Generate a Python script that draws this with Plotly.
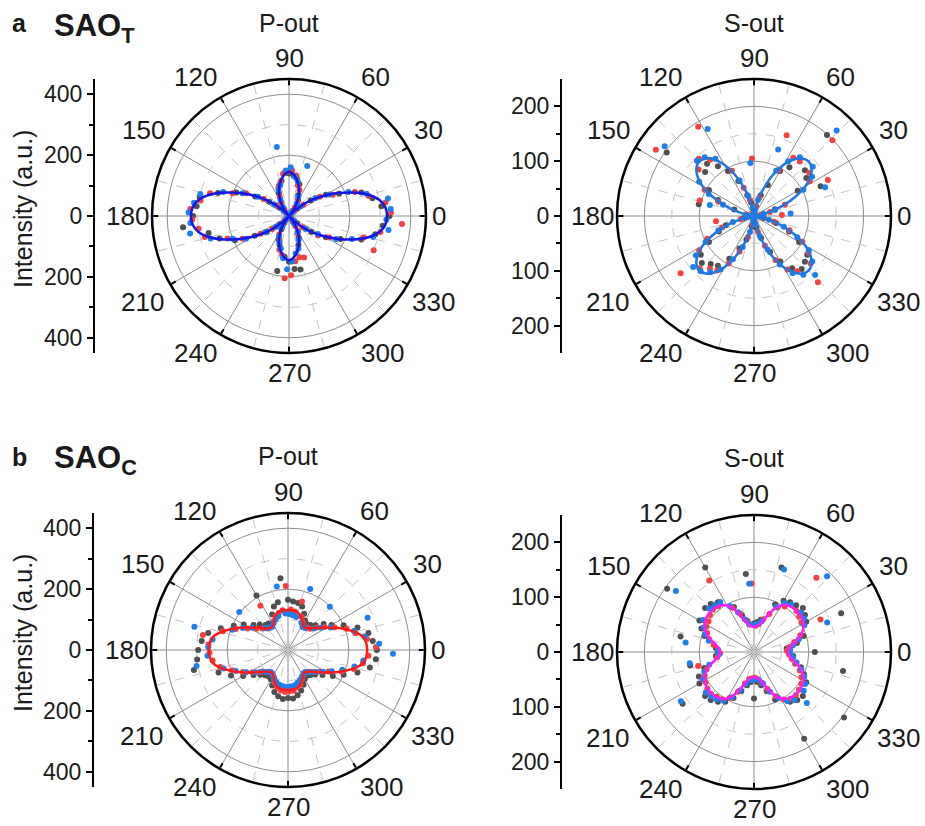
import plotly.graph_objects as go

W, H = 925, 826
FONT = "Liberation Sans, Arial, sans-serif"
TXT = "#1a1a1a"

# Polarisation angle (deg) of the three measurement runs
ANG_GRAY = list(range(0, 360, 6))
ANG_RED = list(range(2, 360, 6))
ANG_BLUE = list(range(4, 360, 6))
FIT_STEP = 5  # fit curves are listed over 0..90 deg and mirrored into the other quadrants

# ---------------- panel a, SAO_T, P-out ----------------
a_p_gray = [330, 305, 280, 250, 180, 140, 88, 35, 12, 20, 60, 75, 110, 125, 135, 140,
            142, 118, 105, 82, 50, 28, 8, 42, 80, 128, 190, 245, 300, 305,
            315, 350, 270, 240, 195, 130, 90, 40, 10, 28, 50, 85, 100, 185, 135, 150,
            175, 180, 100, 78, 58, 22, 10, 35, 90, 140, 185, 250, 290, 310]
a_p_red = [335, 320, 270, 230, 160, 120, 60, 25, 8, 35, 60, 92, 105, 135, 150,
           148, 140, 115, 100, 70, 48, 12, 20, 55, 100, 160, 200, 270, 295, 325,
           318, 300, 285, 215, 170, 110, 70, 20, 8, 38, 68, 85, 115, 130, 205,
           195, 150, 140, 145, 65, 40, 15, 22, 58, 115, 150, 300, 255, 305, 372]
a_p_blue = [335, 330, 265, 210, 150, 105, 48, 18, 12, 48, 70, 175, 118, 130, 160,
            150, 230, 105, 92, 60, 35, 8, 25, 62, 120, 170, 230, 300, 315, 330,
            325, 330, 268, 200, 160, 95, 55, 12, 18, 42, 75, 92, 110, 140, 175,
            150, 125, 112, 85, 60, 30, 8, 25, 70, 112, 172, 220, 285, 330, 320]
a_p_fit = [322, 318, 302, 270, 225, 178, 135, 92, 52, 15, 5, 28, 55, 76, 96, 113, 128, 140, 145]

# ---------------- panel a, SAO_T, S-out ----------------
a_s_gray = [8, 15, 18, 40, 133, 92, 118, 125, 199, 110, 95, 62, 40, 18, 10, 5,
            8, 25, 40, 70, 95, 112, 128, 120, 197, 95, 72, 38, 103, 12,
            5, 10, 20, 54, 70, 95, 120, 128, 118, 112, 90, 65, 45, 20, 8, 4,
            12, 22, 42, 72, 96, 118, 130, 125, 120, 95, 70, 42, 18, 6]
a_s_red = [51, 12, 30, 60, 150, 120, 128, 199, 130, 128, 95, 159, 35, 18, 5,
           105, 10, 30, 55, 92, 192, 130, 145, 132, 216, 102, 70, 103, 15, 5,
           3, 70, 25, 62, 95, 118, 170, 138, 125, 120, 98, 70, 40, 16, 6,
           4, 12, 30, 58, 90, 115, 128, 168, 135, 120, 100, 70, 38, 15, 4]
a_s_blue = [67, 16, 40, 140, 102, 128, 140, 217, 136, 118, 92, 129, 30, 10, 4,
            97, 15, 38, 70, 180, 126, 140, 145, 207, 118, 92, 60, 83, 10, 3,
            5, 16, 40, 70, 100, 128, 145, 140, 130, 115, 88, 60, 30, 10, 3,
            4, 15, 38, 66, 100, 126, 140, 155, 135, 118, 88, 58, 28, 12, 2]
a_s_fit = [0, 4, 14, 32, 57, 84, 108, 126, 137, 141, 137, 126, 108, 84, 57, 32, 14, 4, 0]

# ---------------- panel b, SAO_C, P-out ----------------
b_p_gray = [292, 280, 270, 240, 200, 165, 145, 122, 110, 105, 112, 130, 150, 158, 160, 165,
            237, 160, 150, 128, 207, 108, 110, 125, 140, 168, 195, 232, 268, 285,
            295, 300, 316, 240, 205, 170, 140, 122, 112, 108, 112, 128, 145, 155, 162, 158,
            160, 152, 140, 125, 110, 105, 110, 120, 140, 170, 200, 240, 275, 290]
b_p_red = [289, 262, 228, 205, 170, 142, 120, 100, 96, 90, 104, 118, 166, 128, 133,
           210, 132, 125, 118, 106, 171, 94, 98, 110, 125, 150, 185, 222, 284, 262,
           258, 250, 230, 195, 165, 138, 118, 104, 95, 93, 100, 116, 128, 135, 138,
           136, 135, 125, 120, 105, 96, 92, 100, 112, 128, 150, 190, 225, 250, 265]
b_p_blue = [300, 255, 225, 282, 158, 130, 110, 198, 92, 90, 100, 213, 112, 115, 118,
            120, 212, 115, 108, 100, 92, 95, 104, 203, 138, 165, 195, 317, 250, 262,
            265, 305, 220, 185, 155, 130, 110, 100, 92, 95, 104, 112, 118, 120, 122,
            120, 118, 112, 105, 98, 92, 95, 104, 118, 135, 160, 190, 225, 250, 345]
b_p_fit = [260, 258, 250, 228, 200, 172, 148, 128, 112, 100, 94, 92, 97, 108, 120, 127, 130, 131, 131]

# ---------------- panel b, SAO_C, S-out ----------------
b_s_gray = [111, 60, 80, 95, 174, 110, 115, 120, 115, 112, 108, 95, 162, 60, 55, 52,
            143, 58, 70, 90, 178, 112, 118, 120, 196, 115, 105, 95, 137, 70,
            66, 70, 119, 95, 110, 115, 161, 120, 118, 112, 105, 92, 75, 62, 55, 85,
            55, 62, 75, 95, 183, 112, 118, 120, 203, 110, 100, 90, 166, 72]
b_s_red = [60, 65, 76, 90, 135, 102, 105, 108, 177, 100, 92, 75, 62, 52, 48,
           125, 50, 60, 75, 90, 154, 106, 108, 105, 100, 98, 92, 85, 75, 66,
           62, 68, 105, 92, 100, 104, 108, 110, 106, 104, 95, 78, 60, 50, 48,
           47, 50, 58, 72, 90, 102, 108, 110, 107, 104, 98, 90, 78, 70, 64]
b_s_blue = [66, 72, 85, 144, 104, 110, 112, 192, 110, 105, 92, 160, 58, 52, 50,
            125, 52, 62, 78, 95, 110, 112, 114, 181, 110, 102, 95, 85, 126, 66,
            64, 119, 85, 98, 106, 161, 115, 112, 110, 105, 92, 75, 60, 52, 50,
            50, 52, 60, 78, 95, 108, 115, 134, 115, 110, 102, 92, 80, 72, 66]
b_s_fit = [62, 64, 70, 80, 91, 99, 104, 107, 108, 108, 107, 104, 98, 86, 70, 57, 50, 47, 46]

ANGLE_TICKS = list(range(0, 360, 30))
# pixel offset of each angle label from the centre of its polar plot
ANGLE_LABEL_OFFSET = {0: (150, 0), 30: (139, -86), 60: (86, -139), 90: (0, -158),
                      120: (-94, -139), 150: (-146, -86), 180: (-162, 0), 210: (-147, 86),
                      240: (-94, 137), 270: (0, 157), 300: (93, 137), 330: (144, 86)}

COL_GRAY = "#4f4f4f"
COL_RED = "#f2413f"
COL_BLUE = "#1f7fea"


def mirror_fit(quadrant):
    theta, r = [], []
    for ang in range(0, 361, FIT_STEP):
        a = ang % 180
        if a > 90:
            a = 180 - a
        theta.append(ang)
        r.append(quadrant[a // FIT_STEP])
    return theta, r


def px(x):
    return x / W


def py(y):
    return 1 - y / H


R_PX = 137
panels = [
    dict(cx=289, cy=216, axis_x=95, rmax=450, major=[200, 400], minor=[100, 300],
         yticks=[-400, -200, 0, 200, 400], yminor=[-300, -100, 100, 300],
         title="P-out", title_y=23, ylabel_y=209,
         data=(a_p_gray, a_p_red, a_p_blue), fit=a_p_fit, fit_color="#1515e8"),
    dict(cx=754, cy=216, axis_x=562, rmax=250, major=[100, 200], minor=[50, 150],
         yticks=[-200, -100, 0, 100, 200], yminor=[-150, -50, 50, 150],
         title="S-out", title_y=23, ylabel_y=None,
         data=(a_s_gray, a_s_red, a_s_blue), fit=a_s_fit, fit_color="#1f78e0"),
    dict(cx=288, cy=650, axis_x=94, rmax=450, major=[200, 400], minor=[100, 300],
         yticks=[-400, -200, 0, 200, 400], yminor=[-300, -100, 100, 300],
         title="P-out", title_y=456, ylabel_y=633,
         data=(b_p_gray, b_p_red, b_p_blue), fit=b_p_fit, fit_color="#ff1a1a"),
    dict(cx=754, cy=652, axis_x=562, rmax=250, major=[100, 200], minor=[50, 150],
         yticks=[-200, -100, 0, 100, 200], yminor=[-150, -50, 50, 150],
         title="S-out", title_y=458, ylabel_y=None,
         data=(b_s_gray, b_s_red, b_s_blue), fit=b_s_fit, fit_color="#ff1aff"),
]

fig = go.Figure()
layout = dict(
    width=W, height=H, margin=dict(l=0, r=0, t=0, b=0),
    paper_bgcolor="white", plot_bgcolor="white", showlegend=False,
    font=dict(family=FONT, color=TXT),
)
annotations = []

for i, p in enumerate(panels):
    n = i + 1
    pid = "polar" if n == 1 else f"polar{n}"
    xa = "x" if n == 1 else f"x{n}"
    ya = "y" if n == 1 else f"y{n}"
    rmax = p["rmax"]

    # dashed minor rings and spokes
    ring_t = list(range(0, 361, 2))
    for rv in p["minor"]:
        fig.add_trace(go.Scatterpolar(
            r=[rv] * len(ring_t), theta=ring_t, mode="lines",
            line=dict(color="#c2c2c2", width=1, dash="dash"),
            hoverinfo="skip", showlegend=False, subplot=pid))
    sp_r, sp_t = [], []
    for a in range(15, 360, 30):
        sp_r += [0, rmax, None]
        sp_t += [a, a, a]
    fig.add_trace(go.Scatterpolar(
        r=sp_r, theta=sp_t, mode="lines",
        line=dict(color="#c2c2c2", width=1, dash="dash"),
        hoverinfo="skip", showlegend=False, subplot=pid))

    # measured points
    for vals, ang, col in zip(p["data"], (ANG_GRAY, ANG_RED, ANG_BLUE),
                              (COL_GRAY, COL_RED, COL_BLUE)):
        fig.add_trace(go.Scatterpolar(
            r=vals, theta=ang, mode="markers",
            marker=dict(color=col, size=6, line=dict(width=0)),
            showlegend=False, subplot=pid))

    # fit curve
    ft, fr = mirror_fit(p["fit"])
    fig.add_trace(go.Scatterpolar(
        r=fr, theta=ft, mode="lines",
        line=dict(color=p["fit_color"], width=2.5, shape="spline", smoothing=1.0),
        showlegend=False, subplot=pid))

    cx, cy = p["cx"], p["cy"]
    layout[pid] = dict(
        domain=dict(x=[px(cx - R_PX), px(cx + R_PX)], y=[py(cy + R_PX), py(cy - R_PX)]),
        bgcolor="rgba(0,0,0,0)",
        angularaxis=dict(
            rotation=0, direction="counterclockwise",
            tickmode="array", tickvals=ANGLE_TICKS, showticklabels=False,
            showline=True, linecolor="black", linewidth=2.5,
            showgrid=True, gridcolor="#8c8c8c", gridwidth=1,
            ticks="inside", ticklen=5, tickwidth=1.5, tickcolor="black",
        ),
        radialaxis=dict(
            range=[0, rmax], tickmode="array", tickvals=p["major"],
            showticklabels=False, ticks="", showline=False,
            gridcolor="#8c8c8c", gridwidth=1, layer="below traces",
        ),
    )

    # angle labels around the rim
    for ang in ANGLE_TICKS:
        dx, dy = ANGLE_LABEL_OFFSET[ang]
        annotations.append(dict(text=str(ang), x=px(cx + dx), y=py(cy + dy),
                                xref="paper", yref="paper", showarrow=False,
                                xanchor="center", yanchor="middle",
                                font=dict(family=FONT, size=26, color=TXT)))

    # linear intensity scale beside each polar plot
    fig.add_trace(go.Scatter(x=[None], y=[None], xaxis=xa, yaxis=ya,
                             showlegend=False, hoverinfo="skip"))
    xkey = "xaxis" if n == 1 else f"xaxis{n}"
    ykey = "yaxis" if n == 1 else f"yaxis{n}"
    layout[xkey] = dict(domain=[px(p["axis_x"]), px(p["axis_x"]) + 0.005],
                        visible=False, range=[0, 1], fixedrange=True)
    layout[ykey] = dict(
        domain=[py(cy + R_PX), py(cy - R_PX)], anchor=xa, side="left",
        range=[-rmax, rmax], tickmode="array", tickvals=p["yticks"],
        ticktext=[str(abs(v)) for v in p["yticks"]],
        ticks="outside", ticklen=6, tickwidth=1.5, tickcolor="black",
        showline=True, linecolor="black", linewidth=2,
        showgrid=False, zeroline=False, fixedrange=True,
        tickfont=dict(family=FONT, size=23, color=TXT),
        minor=dict(tickvals=p["yminor"], ticks="outside", ticklen=4,
                   tickwidth=1.5, tickcolor="black", showgrid=False),
    )

    annotations.append(dict(text=p["title"], x=px(cx), y=py(p["title_y"]),
                            xref="paper", yref="paper", showarrow=False,
                            xanchor="center", yanchor="middle",
                            font=dict(family=FONT, size=25, color=TXT)))
    if p["ylabel_y"] is not None:
        annotations.append(dict(text="Intensity (a.u.)", textangle=-90,
                                x=px(23), y=py(p["ylabel_y"]),
                                xref="paper", yref="paper", showarrow=False,
                                xanchor="center", yanchor="middle",
                                font=dict(family=FONT, size=25, color=TXT)))

# panel letters and sample names
for letter, name, ly, ny in (("a", "SAO<sub>T</sub>", 23, 28), ("b", "SAO<sub>C</sub>", 457, 460)):
    annotations.append(dict(text=f"<b>{letter}</b>", x=px(19), y=py(ly), xref="paper", yref="paper",
                            showarrow=False, xanchor="center", yanchor="middle",
                            font=dict(family=FONT, size=25, color=TXT)))
    annotations.append(dict(text=f"<b>{name}</b>", x=px(52), y=py(ny), xref="paper", yref="paper",
                            showarrow=False, xanchor="left", yanchor="middle",
                            font=dict(family=FONT, size=31, color=TXT)))

layout["annotations"] = annotations
fig.update_layout(**layout)
fig.write_html("out.html")
